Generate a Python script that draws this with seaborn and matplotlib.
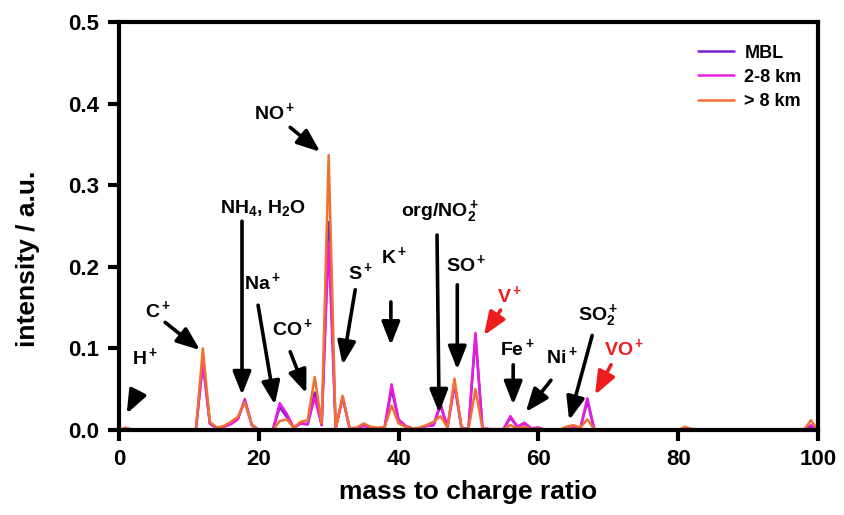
"""
Mass spectrum comparison (MBL / 2-8 km / > 8 km) with ion annotations.
"""

import pandas as pd
import matplotlib
matplotlib.use("Agg")
import matplotlib.pyplot as plt
import seaborn as sns

# ─────────────────────────────────────────────
# Data
# ─────────────────────────────────────────────

mz = [0, 1, 2, 11, 12, 13, 14, 15, 16, 17, 18, 19, 20, 22, 23, 24, 25, 26, 27,
      28, 29, 30, 31, 32, 33, 34, 35, 36, 37, 38, 39, 40, 41, 42, 43, 44, 45,
      46, 47, 48, 49, 50, 51, 52, 53, 55, 56, 57, 58, 59, 60, 61, 63, 64, 65,
      66, 67, 68, 70, 80, 81, 82, 83, 85, 98, 99, 100]

mbl = [0, 0.002, 0, 0, 0.085, 0.008, 0.002, 0.004, 0.008, 0.014, 0.036, 0.006,
       0, 0, 0.028, 0.016, 0.003, 0.008, 0.007, 0.046, 0.006, 0.255, 0.002,
       0.040, 0.002, 0.002, 0.006, 0.003, 0.002, 0.003, 0.050, 0.012, 0.005,
       0.002, 0.002, 0.005, 0.006, 0.030, 0.003, 0.058, 0.003, 0.001, 0.115,
       0.002, 0.001, 0.001, 0.015, 0.004, 0.008, 0.002, 0.003, 0, 0, 0.002,
       0.004, 0.002, 0.035, 0.001, 0, 0, 0.002, 0.001, 0, 0, 0, 0.004, 0]

km_2_8 = [0, 0.002, 0, 0, 0.082, 0.008, 0.002, 0.004, 0.007, 0.013, 0.038,
          0.006, 0, 0, 0.033, 0.020, 0.003, 0.008, 0.007, 0.040, 0.006, 0.230,
          0.002, 0.040, 0.002, 0.002, 0.005, 0.003, 0.002, 0.003, 0.056, 0.013,
          0.005, 0.002, 0.002, 0.005, 0.006, 0.033, 0.003, 0.055, 0.003, 0.001,
          0.119, 0.002, 0.001, 0.001, 0.017, 0.004, 0.009, 0.002, 0.003, 0, 0,
          0.002, 0.004, 0.002, 0.039, 0.001, 0, 0, 0.002, 0.001, 0, 0, 0,
          0.006, 0]

km_gt_8 = [0, 0.003, 0, 0, 0.100, 0.010, 0.003, 0.005, 0.010, 0.016, 0.034,
           0.007, 0, 0, 0.011, 0.013, 0.003, 0.010, 0.012, 0.065, 0.008, 0.337,
           0.002, 0.042, 0.002, 0.003, 0.008, 0.004, 0.003, 0.003, 0.030,
           0.008, 0.004, 0.002, 0.003, 0.006, 0.010, 0.017, 0.003, 0.063,
           0.003, 0.001, 0.050, 0.002, 0.001, 0.001, 0.006, 0.002, 0.004,
           0.001, 0.002, 0, 0, 0.004, 0.006, 0.003, 0.013, 0.001, 0, 0, 0.004,
           0.001, 0, 0, 0, 0.012, 0]

series_names = ["MBL", "2-8 km", "> 8 km"]
series_colors = ["#7a22c8", "#e81ce0", "#f07030"]

# ion labels: text, text position (m/z, intensity), arrow tail, arrow tip, colour
ion_labels = ["H$^+$", "C$^+$", "NH$_4$, H$_2$O", "Na$^+$", "CO$^+$", "NO$^+$",
              "S$^+$", "K$^+$", "org/NO$_2^+$", "SO$^+$", "V$^+$", "Fe$^+$",
              "Ni$^+$", "SO$_2^+$", "VO$^+$"]
label_xy = [(3.7, 0.090), (5.6, 0.147), (20.6, 0.272), (20.5, 0.182),
            (24.8, 0.125), (22.3, 0.390), (34.6, 0.194), (39.3, 0.213),
            (46.0, 0.268), (49.6, 0.204), (55.9, 0.165), (57.0, 0.100),
            (63.4, 0.091), (68.6, 0.140), (72.3, 0.100)]
arrow_from = [(2.6, 0.045), (6.6, 0.132), (17.6, 0.256), (19.9, 0.153),
              (24.5, 0.096), (24.5, 0.371), (33.8, 0.172), (38.9, 0.157),
              (45.5, 0.239), (48.4, 0.178), (54.6, 0.147), (56.4, 0.080),
              (61.8, 0.061), (67.7, 0.116), (70.4, 0.080)]
arrow_to = [(1.1, 0.020), (11.6, 0.098), (17.6, 0.043), (22.3, 0.031),
            (26.8, 0.045), (28.8, 0.341), (32.0, 0.080), (38.9, 0.104),
            (45.8, 0.021), (48.4, 0.074), (52.2, 0.116), (56.4, 0.031),
            (58.2, 0.022), (64.4, 0.012), (68.1, 0.043)]
label_colors = ["black"] * 10 + ["#ee1c1c"] + ["black"] * 3 + ["#ee1c1c"]


# ─────────────────────────────────────────────
# Plot
# ─────────────────────────────────────────────

def build_frame() -> pd.DataFrame:
    parts = []
    for name, vals in zip(series_names, [mbl, km_2_8, km_gt_8]):
        parts.append(pd.DataFrame({"mz": mz, "intensity": vals, "series": name}))
    return pd.concat(parts, ignore_index=True)


def make_plot(df: pd.DataFrame):
    sns.set_style("ticks")
    plt.rcParams["font.family"] = ["Liberation Sans", "DejaVu Sans"]
    plt.rcParams["font.weight"] = "bold"
    plt.rcParams["mathtext.fontset"] = "custom"
    plt.rcParams["mathtext.rm"] = "Liberation Sans:bold"
    plt.rcParams["mathtext.it"] = "Liberation Sans:bold"
    plt.rcParams["mathtext.bf"] = "Liberation Sans:bold"
    for key in ["text.color", "axes.labelcolor", "xtick.color", "ytick.color",
                "axes.edgecolor"]:
        plt.rcParams[key] = "black"

    fig = plt.figure(figsize=(8.45, 5.15), dpi=100)
    ax = fig.add_axes([0.1408, 0.165, 0.8272, 0.792])

    sns.lineplot(data=df, x="mz", y="intensity", hue="series",
                 hue_order=series_names, palette=series_colors,
                 linewidth=1.8, ax=ax, estimator=None, sort=False)

    for txt, xy, a0, a1, c in zip(ion_labels, label_xy, arrow_from, arrow_to, label_colors):
        ax.text(xy[0], xy[1], txt, ha="center", va="center", color=c,
                fontsize=14, fontweight="bold")
        ax.annotate("", xy=a1, xytext=a0,
                    arrowprops=dict(arrowstyle="-|>,head_length=1.4,head_width=0.55",
                                    color=c, lw=2.6, shrinkA=0, shrinkB=0))

    ax.set_xlim(0, 100)
    ax.set_ylim(0, 0.5)
    ax.set_xticks([0, 20, 40, 60, 80, 100])
    ax.set_yticks([0.0, 0.1, 0.2, 0.3, 0.4, 0.5])
    ax.set_yticklabels(["0.0", "0.1", "0.2", "0.3", "0.4", "0.5"])
    ax.set_xlabel("mass to charge ratio", fontsize=19, fontweight="bold", labelpad=7)
    ax.set_ylabel("intensity / a.u.", fontsize=19, fontweight="bold")
    ax.yaxis.set_label_coords(-0.113, 0.42)
    ax.tick_params(axis="both", direction="out", length=8, width=3,
                   labelsize=16, pad=6)
    for lab in ax.get_xticklabels() + ax.get_yticklabels():
        lab.set_fontweight("bold")
    for sp in ax.spines.values():
        sp.set_linewidth(3)
        sp.set_visible(True)

    leg = ax.legend(loc="upper right", bbox_to_anchor=(1.0, 0.985), frameon=False,
                    fontsize=13, handlelength=2.0, labelspacing=0.4,
                    handletextpad=0.6)
    for t in leg.get_texts():
        t.set_fontweight("bold")

    fig.savefig("out.png", dpi=100)
    plt.close(fig)


if __name__ == "__main__":
    make_plot(build_frame())
